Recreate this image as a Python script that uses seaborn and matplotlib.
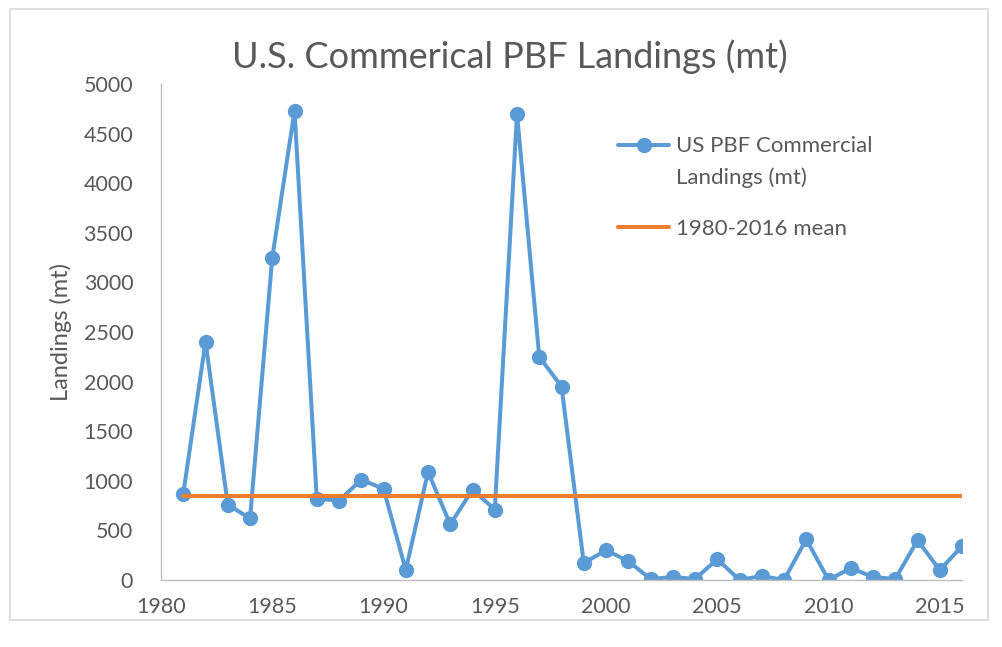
import matplotlib
matplotlib.use("Agg")
import pandas as pd
import seaborn as sns
import matplotlib.pyplot as plt
from matplotlib.lines import Line2D
from matplotlib.patches import Rectangle

# Values
years = list(range(1981, 2017))
landings = [870, 2400, 760, 620, 3250, 4730, 820, 800, 1010, 920,
            100, 1090, 560, 910, 710, 4700, 2250, 1950, 170, 300,
            190, 10, 30, 10, 210, 0, 40, 0, 410, 0,
            120, 30, 10, 400, 100, 340]
mean_value = 850
x_ticks = [1980, 1985, 1990, 1995, 2000, 2005, 2010, 2015]
y_ticks = list(range(0, 5001, 500))

df = pd.DataFrame({"year": years, "landings": landings})
df["mean"] = mean_value

sns.set_style("white")
plt.rcParams["font.family"] = ["Lato", "DejaVu Sans"]

text_color = "#595959"
axis_color = "#BFBFBF"
blue = "#5B9BD5"
orange = "#ED7D31"

fig = plt.figure(figsize=(10.02, 6.47), dpi=100)
ax = fig.add_axes([0.1607, 0.1036, 0.7994, 0.7666])

sns.lineplot(data=df, x="year", y="landings", ax=ax, color=blue,
             linewidth=2.9, marker="o", markersize=11, markeredgewidth=0,
             label="US PBF Commercial\nLandings (mt)")
sns.lineplot(data=df, x="year", y="mean", ax=ax, color=orange,
             linewidth=2.9, label="1980-2016 mean")

ax.set_xlim(1980, 2016)
ax.set_ylim(0, 5000)
ax.set_xticks(x_ticks)
ax.set_yticks(y_ticks)
for lab in ax.get_xticklabels() + ax.get_yticklabels():
    lab.set_fontsize(15.5)
    lab.set_color(text_color)

ax.tick_params(axis="x", direction="inout", length=11, width=1,
               color=axis_color, pad=7)
ax.tick_params(axis="y", length=0, pad=20)

for side in ["top", "right"]:
    ax.spines[side].set_visible(False)
ax.spines["left"].set_color(axis_color)
ax.spines["bottom"].set_color(axis_color)
ax.spines["left"].set_linewidth(1)
ax.spines["bottom"].set_linewidth(1)

ax.set_xlabel("")
ax.set_ylabel("Landings (mt)", fontsize=17, color=text_color, labelpad=8)

fig.text(0.509, 0.912, "U.S. Commerical PBF Landings (mt)", ha="center",
         va="center", fontsize=26, color=text_color)

leg = ax.legend(loc="upper left", bbox_to_anchor=(0.546, 0.935), frameon=False,
                fontsize=16, handlelength=2.3, labelspacing=1.4,
                handletextpad=0.3, labelcolor=text_color)
leg.get_texts()[0].set_linespacing(1.65)
# Excel puts the marker next to the first line of a two-line label
for art in leg.findobj(Line2D):
    if art.get_color() == blue:
        art.set_ydata([y + 12.5 for y in art.get_ydata()])

# light grey chart border
fig.patches.append(Rectangle((10 / 1002, 1 - 620 / 647), 978 / 1002, 611 / 647,
                             transform=fig.transFigure, fill=False,
                             edgecolor="#D9D9D9", linewidth=1.2))

fig.savefig("out.png", dpi=100)
